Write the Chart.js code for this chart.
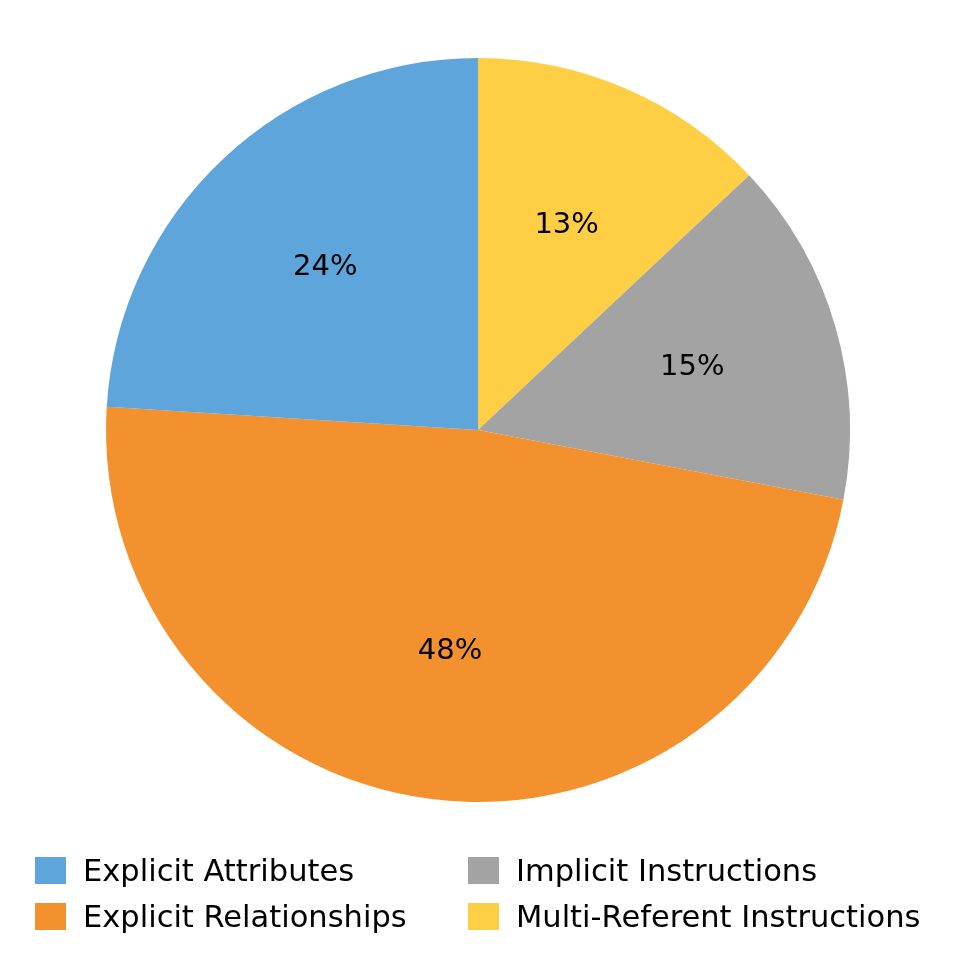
<!DOCTYPE html>
<html>
<head>
<meta charset="utf-8">
<script src="https://cdn.jsdelivr.net/npm/chart.js@4/dist/chart.umd.min.js"></script>
<style>
	html, body { margin: 0; padding: 0; background: #fff; }
	#wrap { position: relative; width: 957px; height: 968px; }
	#legend {
		position: absolute; left: 35px; top: 854px;
		display: grid; grid-template-columns: 433px auto; row-gap: 13px;
		font-family: 'DejaVu Sans', sans-serif; font-size: 30.5px; color: #000;
	}
	.item { display: flex; align-items: center; height: 33px; white-space: nowrap; }
	.box { width: 31px; height: 27px; margin-right: 17px; }
</style>
</head>
<body>
<div id="wrap">
	<canvas id="pie" width="957" height="968"></canvas>
	<div id="legend"></div>
</div>
<script>
	// Categories, shares and colours, in legend order.
	const categories = ['Explicit Attributes', 'Explicit Relationships', 'Implicit Instructions', 'Multi-Referent Instructions'];
	const shares = [24, 48, 15, 13];
	const colors = ['#5DA5DA', '#F3912E', '#A3A3A3', '#FECF44'];

	// Chart.js draws clockwise, the reference counter-clockwise from the top.
	const order = [3, 2, 1, 0];

	const pctLabels = {
		id: 'pctLabels',
		afterDatasetsDraw(chart) {
			const ctx = chart.ctx;
			const meta = chart.getDatasetMeta(0);
			ctx.save();
			ctx.font = '29px "DejaVu Sans", sans-serif';
			ctx.fillStyle = '#000';
			ctx.textAlign = 'center';
			ctx.textBaseline = 'middle';
			meta.data.forEach(function(arc, i) {
				const p = arc.getProps(['x', 'y', 'startAngle', 'endAngle', 'outerRadius'], true);
				const mid = (p.startAngle + p.endAngle) / 2;
				const r = p.outerRadius * 0.6;
				ctx.fillText(chart.data.datasets[0].data[i] + '%', p.x + Math.cos(mid) * r, p.y + Math.sin(mid) * r);
			});
			ctx.restore();
		}
	};

	new Chart(document.getElementById('pie'), {
		type: 'pie',
		data: {
			labels: order.map(i => categories[i]),
			datasets: [{
				data: order.map(i => shares[i]),
				backgroundColor: order.map(i => colors[i]),
				borderWidth: 0,
			}]
		},
		options: {
			responsive: false,
			animation: false,
			layout: { padding: { top: 58, bottom: 166, left: 106, right: 107 } },
			plugins: {
				legend: { display: false },
				tooltip: { enabled: false },
			}
		},
		plugins: [pctLabels]
	});

	// Legend in two columns, filled column by column.
	const legend = document.getElementById('legend');
	[0, 2, 1, 3].forEach(function(i) {
		const item = document.createElement('div');
		item.className = 'item';
		item.innerHTML = '<span class="box" style="background:' + colors[i] + '"></span>' + categories[i];
		legend.appendChild(item);
	});
</script>
</body>
</html>
